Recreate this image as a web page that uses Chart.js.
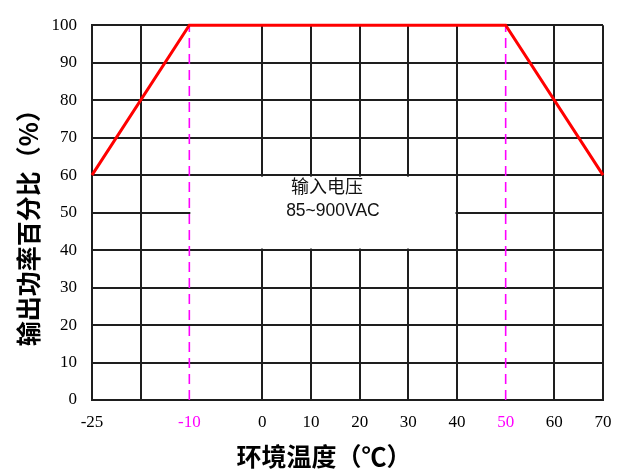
<!DOCTYPE html>
<html>
<head>
<meta charset="utf-8">
<script src="https://cdn.jsdelivr.net/npm/chart.js@4.4.1/dist/chart.umd.min.js"></script>
<style>
  html, body { margin: 0; padding: 0; background: #fff; }
  #wrap { width: 625px; height: 470px; }
</style>
</head>
<body>
<div id="wrap"><canvas id="chart"></canvas></div>
<script>
// --- données ---
const chartTitle  = '输出功率与环境温度降额曲线';
const yTitle      = '输出功率百分比（%）';
const xTitle      = '环境温度（℃）';
const noteLines   = ['输入电压', '85~900VAC'];

const xTickTemps  = [-25, -17.5, -10, 0, 10, 20, 30, 40, 50, 60, 70];
const xTickLabels = ['-25', '', '-10', '0', '10', '20', '30', '40', '50', '60', '70'];
const xMarkTemps  = [-10, 50];          // lignes pointillées magenta
const yTicks      = [0, 10, 20, 30, 40, 50, 60, 70, 80, 90, 100];

const curveTemps  = [-25, -10, 50, 70];
const curvePower  = [60, 100, 100, 60];

const noteTemps   = [-10, 40];          // zone blanche de la note
const notePower   = [40, 60];

// axe X non uniforme dans l'original : écart entre graduations (en cases)
const xTickGaps   = [1, 1, 1.5, 1, 1, 1, 1, 1, 1, 1];
const xTickSlots  = xTickGaps.reduce((a, g) => (a.push(a[a.length - 1] + g), a), [0]);

// température -> position sur l'axe (interpolation entre graduations)
function slotOf(t) {
  for (let i = 0; i < xTickTemps.length - 1; i++) {
    const t0 = xTickTemps[i], t1 = xTickTemps[i + 1];
    if (t >= t0 && t <= t1) {
      return xTickSlots[i] + (t - t0) / (t1 - t0) * (xTickSlots[i + 1] - xTickSlots[i]);
    }
  }
  return t < xTickTemps[0] ? xTickSlots[0] : xTickSlots[xTickSlots.length - 1];
}

const GRID = '#1e1e1e';
const isMark = i => xMarkTemps.includes(xTickTemps[i]);

// ─── décor : zone de note, titres ───
const decor = {
  id: 'decor',
  beforeDatasetsDraw(chart) {
    const { ctx, scales: { x, y } } = chart;
    const l = x.getPixelForValue(slotOf(noteTemps[0])) + 1;
    const r = x.getPixelForValue(slotOf(noteTemps[1])) - 1.5;
    const t = y.getPixelForValue(notePower[1]) + 1.5;
    const b = y.getPixelForValue(notePower[0]) - 1.5;
    ctx.save();
    ctx.fillStyle = '#fff';
    ctx.fillRect(l, t, r - l, b - t);
    const cx = (l + r) / 2 + 7;
    ctx.fillStyle = '#111';
    ctx.textAlign = 'center';
    ctx.textBaseline = 'middle';
    ctx.font = '18px "Noto Sans CJK SC"';
    ctx.fillText(noteLines[0], cx - 3, t + 10);
    ctx.font = '17.5px "Liberation Sans"';
    ctx.fillText(noteLines[1], cx + 3, t + 35);
    ctx.restore();
  },
  afterDraw(chart) {
    const { ctx, chartArea: a } = chart;
    ctx.save();
    ctx.fillStyle = '#000';
    // titre coupé en haut de l'image
    ctx.textAlign = 'center';
    ctx.textBaseline = 'bottom';
    ctx.font = 'bold 19px "Noto Sans CJK SC"';
    ctx.fillText(chartTitle, 340, 0);
    // titre axe X
    ctx.textBaseline = 'middle';
    ctx.font = 'bold 25px "Noto Sans CJK SC"';
    ctx.fillText(xTitle, 324, 456);
    // titre axe Y
    ctx.translate(28, (a.top + a.bottom) / 2 + 9);
    ctx.rotate(-Math.PI / 2);
    ctx.fillText(yTitle, 0, 0);
    ctx.restore();
  },
};

const datasets = [
  {
    label: 'curve',
    data: curveTemps.map((t, i) => ({ x: slotOf(t), y: curvePower[i] })),
    borderColor: '#ff0000',
    borderWidth: 3,
    pointRadius: 0,
    clip: 4,
    order: 0,
  },
  ...xMarkTemps.map(t => ({
    label: 'mark ' + t,
    data: [{ x: slotOf(t), y: yTicks[0] }, { x: slotOf(t), y: yTicks[yTicks.length - 1] }],
    borderColor: '#ff00ff',
    borderWidth: 1.6,
    borderDash: [10, 6],
    pointRadius: 0,
    order: 1,
  })),
];

new Chart(document.getElementById('chart'), {
  type: 'line',
  data: { datasets },
  plugins: [decor],
  options: {
    responsive: true,
    maintainAspectRatio: false,
    animation: false,
    layout: { padding: { top: 20, right: 22, left: 0, bottom: 0 } },
    plugins: { legend: { display: false }, tooltip: { enabled: false } },
    scales: {
      x: {
        type: 'linear',
        min: xTickSlots[0],
        max: xTickSlots[xTickSlots.length - 1],
        afterBuildTicks: axis => { axis.ticks = xTickSlots.map(v => ({ value: v })); },
        afterFit: axis => { axis.height = 70; },
        ticks: {
          autoSkip: false,
          maxRotation: 0,
          padding: 12,
          color: ctx => isMark(ctx.index) ? '#ff00ff' : '#000',
          font: { family: 'Liberation Serif', size: 17 },
          callback: (v, i) => xTickLabels[i],
        },
        grid: {
          drawTicks: false,
          lineWidth: 2,
          color: ctx => isMark(ctx.index) ? 'rgba(0,0,0,0)' : GRID,
        },
        border: { display: true, color: GRID, width: 2 },
      },
      y: {
        min: yTicks[0],
        max: yTicks[yTicks.length - 1],
        afterBuildTicks: axis => { axis.ticks = yTicks.map(v => ({ value: v })); },
        afterFit: axis => { axis.width = 92; },
        ticks: {
          padding: 15,
          color: '#000',
          font: { family: 'Liberation Serif', size: 17 },
        },
        grid: { drawTicks: false, lineWidth: 2, color: GRID },
        border: { display: true, color: GRID, width: 2 },
      },
    },
  },
});
</script>
</body>
</html>
